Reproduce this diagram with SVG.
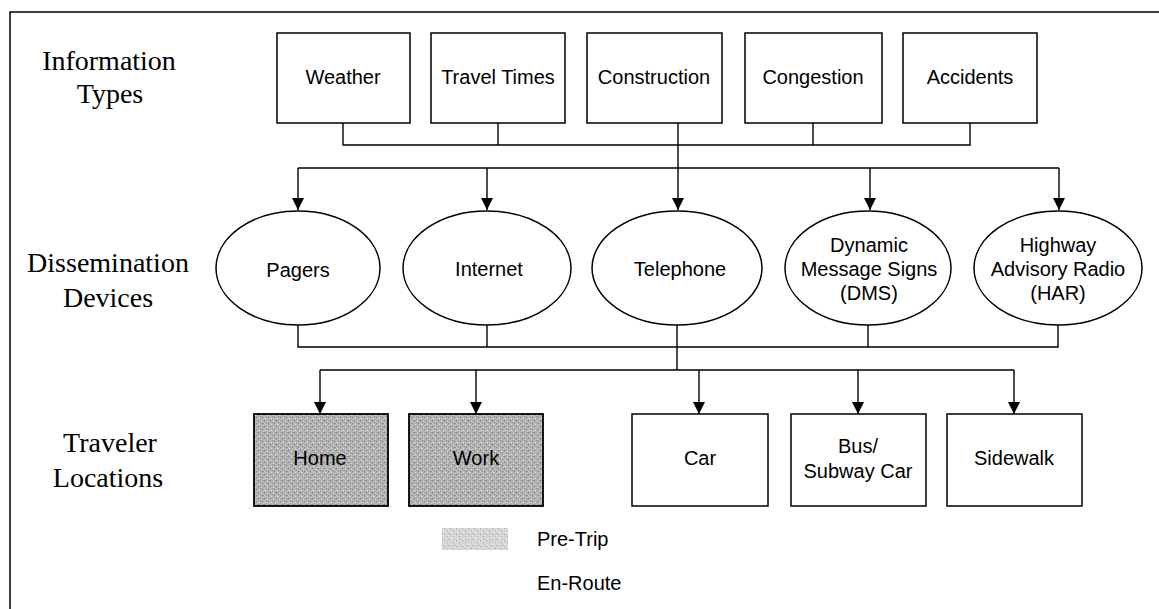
<svg xmlns="http://www.w3.org/2000/svg" width="1159" height="609" viewBox="0 0 1159 609">
<style>
.box{fill:#fff;stroke:#000;stroke-width:1.5}
.shade{fill:url(#stip);stroke:#000;stroke-width:1.8}
.ell{fill:#fff;stroke:#000;stroke-width:1.5}
.lbl{font-family:"Liberation Sans",Arial,sans-serif;font-size:20px;fill:#000;text-anchor:middle}
.side{font-family:"Liberation Serif","Times New Roman",serif;font-size:28px;fill:#000;text-anchor:middle}
.leg{font-family:"Liberation Sans",Arial,sans-serif;font-size:20px;fill:#000}
.con{fill:none;stroke:#000;stroke-width:1.4}
</style>
<defs>
<marker id="arr" markerUnits="userSpaceOnUse" markerWidth="13" markerHeight="12" refX="12" refY="6" orient="auto">
<path d="M0,0 L12,6 L0,12 z" fill="#000"/>
</marker>
<pattern id="stip" width="6" height="6" patternUnits="userSpaceOnUse">
<rect width="6" height="6" fill="#b2b2b2"/>
<rect x="0" y="0" width="1" height="1" fill="#7a7a7a"/>
<rect x="3" y="1" width="1" height="1" fill="#e0e0e0"/>
<rect x="4" y="3" width="1" height="1" fill="#808080"/>
<rect x="1" y="4" width="1" height="1" fill="#dcdcdc"/>
<rect x="2" y="2" width="1" height="1" fill="#909090"/>
<rect x="5" y="5" width="1" height="1" fill="#d4d4d4"/>
<rect x="5" y="0" width="1" height="1" fill="#9a9a9a"/>
<rect x="0" y="3" width="1" height="1" fill="#c8c8c8"/>
</pattern>
<pattern id="stipL" width="6" height="6" patternUnits="userSpaceOnUse">
<rect width="6" height="6" fill="#d6d6d6"/>
<rect x="0" y="0" width="1" height="1" fill="#a8a8a8"/>
<rect x="3" y="2" width="1" height="1" fill="#b4b4b4"/>
<rect x="1" y="4" width="1" height="1" fill="#eeeeee"/>
<rect x="4" y="5" width="1" height="1" fill="#b0b0b0"/>
<rect x="5" y="1" width="1" height="1" fill="#f0f0f0"/>
</pattern>
</defs>
<rect x="0" y="0" width="1159" height="609" fill="#fff"/>
<rect x="10" y="12" width="1165" height="620" fill="none" stroke="#000" stroke-width="1.5"/>

<g id="side-labels">
<text class="side" x="109" y="70">Information</text>
<text class="side" x="110" y="103">Types</text>
<text class="side" x="108" y="272">Dissemination</text>
<text class="side" x="108" y="307">Devices</text>
<text class="side" x="110" y="452">Traveler</text>
<text class="side" x="108" y="487">Locations</text>
</g>

<g id="connectors">
<path class="con" d="M343,123 V145 H970 V123"/>
<path class="con" d="M498,123 V145"/>
<path class="con" d="M813,123 V145"/>
<path class="con" d="M298,168 H1059"/>
<path class="con" d="M678,123 V210" marker-end="url(#arr)"/>
<path class="con" d="M298,168 V210" marker-end="url(#arr)"/>
<path class="con" d="M487,168 V210" marker-end="url(#arr)"/>
<path class="con" d="M870,168 V210" marker-end="url(#arr)"/>
<path class="con" d="M1059,168 V210" marker-end="url(#arr)"/>
<path class="con" d="M298,325 V347 H1058 V325"/>
<path class="con" d="M487,325 V347"/>
<path class="con" d="M868,325 V347"/>
<path class="con" d="M677,325 V370"/>
<path class="con" d="M320,370 H1014"/>
<path class="con" d="M320,370 V414" marker-end="url(#arr)"/>
<path class="con" d="M476,370 V414" marker-end="url(#arr)"/>
<path class="con" d="M699,370 V414" marker-end="url(#arr)"/>
<path class="con" d="M858,370 V414" marker-end="url(#arr)"/>
<path class="con" d="M1014,370 V414" marker-end="url(#arr)"/>
</g>

<g id="weather"><rect class="box" x="277" y="33" width="133" height="90"/><text class="lbl" x="343" y="84">Weather</text></g>
<g id="travel-times"><rect class="box" x="431" y="33" width="134" height="90"/><text class="lbl" x="498" y="84">Travel Times</text></g>
<g id="construction"><rect class="box" x="587" y="33" width="135" height="90"/><text class="lbl" x="654" y="84">Construction</text></g>
<g id="congestion"><rect class="box" x="745" y="33" width="137" height="90"/><text class="lbl" x="813" y="84">Congestion</text></g>
<g id="accidents"><rect class="box" x="903" y="33" width="134" height="90"/><text class="lbl" x="970" y="84">Accidents</text></g>

<g id="pagers"><ellipse class="ell" cx="298" cy="268" rx="82" ry="57"/><text class="lbl" x="298" y="277">Pagers</text></g>
<g id="internet"><ellipse class="ell" cx="487" cy="268" rx="84" ry="57"/><text class="lbl" x="489" y="276">Internet</text></g>
<g id="telephone"><ellipse class="ell" cx="677" cy="268" rx="85" ry="57"/><text class="lbl" x="680" y="276">Telephone</text></g>
<g id="dms"><ellipse class="ell" cx="868" cy="268" rx="83" ry="57"/><text class="lbl" x="869" y="252">Dynamic</text><text class="lbl" x="869" y="276">Message Signs</text><text class="lbl" x="869" y="300">(DMS)</text></g>
<g id="har"><ellipse class="ell" cx="1058" cy="268" rx="84" ry="57"/><text class="lbl" x="1058" y="252">Highway</text><text class="lbl" x="1058" y="276">Advisory Radio</text><text class="lbl" x="1058" y="300">(HAR)</text></g>

<g id="home"><rect class="shade" x="254" y="414" width="134" height="92"/><text class="lbl" x="320" y="465">Home</text></g>
<g id="work"><rect class="shade" x="409" y="414" width="134" height="92"/><text class="lbl" x="476" y="465">Work</text></g>
<g id="car"><rect class="box" x="632" y="414" width="136" height="92"/><text class="lbl" x="700" y="465">Car</text></g>
<g id="bus"><rect class="box" x="791" y="414" width="135" height="92"/><text class="lbl" x="858" y="453">Bus/</text><text class="lbl" x="858" y="478">Subway Car</text></g>
<g id="sidewalk"><rect class="box" x="947" y="414" width="135" height="92"/><text class="lbl" x="1014" y="465">Sidewalk</text></g>

<g id="legend">
<rect x="442" y="528" width="66" height="22" fill="url(#stipL)"/>
<text class="leg" x="537" y="546">Pre-Trip</text>
<text class="leg" x="537" y="590">En-Route</text>
</g>
</svg>
